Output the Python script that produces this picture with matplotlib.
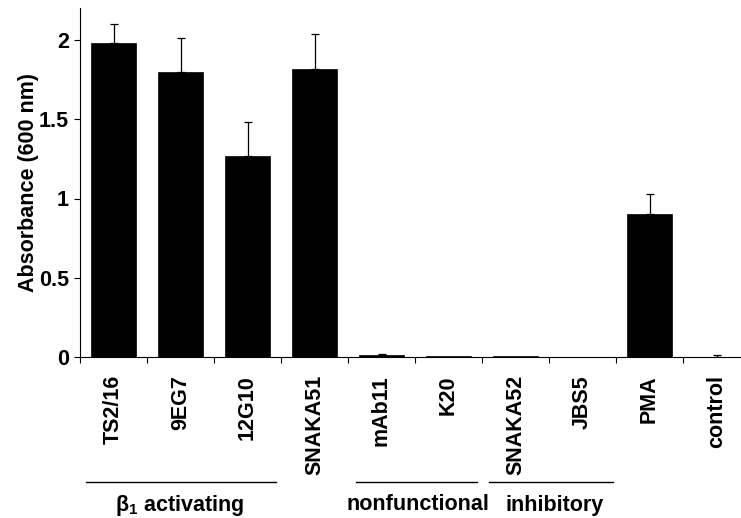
import matplotlib
matplotlib.use("Agg")
import matplotlib.pyplot as plt
import matplotlib.transforms as mtransforms
import numpy as np

categories = ["TS2/16", "9EG7", "12G10", "SNAKA51", "mAb11", "K20",
              "SNAKA52", "JBS5", "PMA", "control"]
values = [1.98, 1.80, 1.27, 1.82, 0.010, 0.005, 0.005, 0.0, 0.90, 0.003]
errors = [0.12, 0.21, 0.21, 0.22, 0.012, 0.0, 0.0, 0.0, 0.13, 0.012]
yticks = [0, 0.5, 1, 1.5, 2]
ytick_labels = ["0", "0.5", "1", "1.5", "2"]
groups = [("$\\mathregular{\\beta_1}$ activating", -0.41, 2.43, 0.98),
          ("nonfunctional", 3.62, 5.43, 4.54),
          ("inhibitory", 5.61, 7.46, 6.59)]

plt.rcParams['font.family'] = ['Liberation Sans', 'DejaVu Sans']
plt.rcParams['font.weight'] = 'bold'
FS = 15.5

fig = plt.figure(figsize=(7.41, 5.18), dpi=100)
W, H = 741, 518
x0, y0 = 80, 357
unit = 67
ax = fig.add_axes([x0 / W, 1 - y0 / H, 10 * unit / W, (y0 - 8.3) / H])

x = np.arange(len(categories))
ax.bar(x, values, width=0.67, color="black", edgecolor="black", linewidth=0.5)
yerr = np.vstack([np.zeros(len(errors)), errors])
mask = np.array(errors) > 0
ax.errorbar(x[mask], np.array(values)[mask], yerr=yerr[:, mask], fmt="none",
            ecolor="black", elinewidth=0.9, capsize=3, capthick=0.9)

ax.set_xlim(-0.5, len(categories) - 0.5)
ax.set_ylim(0, 2.2)
ax.set_yticks(yticks)
ax.set_yticklabels(ytick_labels, fontsize=FS, fontweight="bold")
ax.set_xticks(np.arange(len(categories) + 1) - 0.5)
ax.set_xticklabels([])
ax.set_xticks(x, minor=True)
ax.set_xticklabels(categories, minor=True, rotation=90, fontsize=FS,
                   fontweight="bold", va="top")
ax.tick_params(axis="x", which="minor", length=0, pad=13)
ax.tick_params(axis="both", which="major", direction="out", length=4,
               width=0.8)
ax.tick_params(axis="y", which="major", pad=4)
ax.set_ylabel("Absorbance (600 nm)", fontsize=FS, fontweight="bold",
              labelpad=0)

for side in ["top", "right"]:
    ax.spines[side].set_visible(False)
ax.spines["left"].set_linewidth(0.8)
ax.spines["bottom"].set_linewidth(0.8)

trans = mtransforms.blended_transform_factory(ax.transData, ax.transAxes)
ly = (y0 - 482) / (y0 - 8.3)
ty = (y0 - 505) / (y0 - 8.3)
for label, xa, xb, xc in groups:
    ax.plot([xa, xb], [ly, ly], color="black", linewidth=1.0,
            transform=trans, clip_on=False)
    ax.text(xc, ty, label, transform=trans, ha="center", va="center",
            fontsize=FS, fontweight="bold")

fig.savefig("out.png", dpi=100)
